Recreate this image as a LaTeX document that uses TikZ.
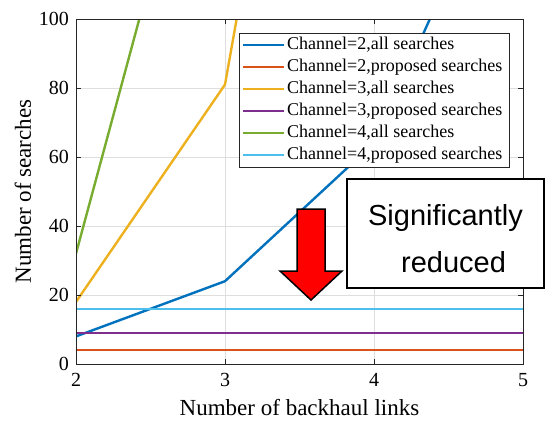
\documentclass[tikz,border=0pt]{standalone}
\usepackage{fontspec}
\setmainfont{Liberation Serif}
\setsansfont{Liberation Sans}
\definecolor{mblue}{rgb}{0,0.447,0.741}
\definecolor{morange}{rgb}{0.85,0.325,0.098}
\definecolor{myellow}{rgb}{0.929,0.694,0.125}
\definecolor{mpurple}{rgb}{0.494,0.184,0.556}
\definecolor{mgreen}{rgb}{0.466,0.674,0.188}
\definecolor{mcyan}{rgb}{0.301,0.745,0.933}
\definecolor{gridgray}{gray}{0.87}
\definecolor{axisgray}{gray}{0.15}
\tikzset{
  curve/.style={line width=2.4pt, line join=round},
  gridline/.style={draw=gridgray, line width=0.8pt},
  axisline/.style={draw=axisgray, line width=1pt},
  ticklabel/.style={font=\fontsize{20}{24}\selectfont, inner sep=0pt},
  axislabel/.style={font=\fontsize{23}{27}\selectfont, inner sep=0pt},
  legendtext/.style={font=\fontsize{18}{21}\selectfont, inner sep=0pt, anchor=west},
  notetext/.style={font=\sffamily\fontsize{29}{34}\selectfont, inner sep=0pt, anchor=base},
  declare function={px(\L)=76+(\L-2)*149; py(\v)=364-\v*3.45;}
}
\begin{document}
\begin{tikzpicture}[x=1pt,y=-1pt]
\useasboundingbox (0,0) rectangle (545,421);

% grid
\foreach \L in {3,4} \draw[gridline] ({px(\L)},19) -- ({px(\L)},364);
\foreach \v in {20,40,60,80} \draw[gridline] (76,{py(\v)}) -- (523,{py(\v)});

% data curves
\begin{scope}
  \clip (76,19) rectangle (523,364);
  \draw[curve, mblue] ({px(2)},{py(8)}) -- ({px(3)},{py(24)}) -- ({px(4)},{py(64)}) -- ({px(5)},{py(160)});
  \draw[curve, morange] ({px(2)},{py(4)}) -- ({px(5)},{py(4)});
  \draw[curve, myellow] ({px(2)},{py(18)}) -- ({px(3)},{py(81)}) -- ({px(4)},{py(324)});
  \draw[curve, mpurple] ({px(2)},{py(9)}) -- ({px(5)},{py(9)});
  \draw[curve, mgreen] ({px(2)},{py(32)}) -- ({px(3)},{py(192)});
  \draw[curve, mcyan] ({px(2)},{py(16)}) -- ({px(5)},{py(16)});
\end{scope}

% axes box and ticks
\draw[axisline] (76,19) rectangle (523,364);
\foreach \L in {2,3,4,5} {
  \draw[axisline] ({px(\L)},364) -- ({px(\L)},359);
  \draw[axisline] ({px(\L)},19) -- ({px(\L)},24);
  \node[ticklabel, anchor=north] (xt\L) at ({px(\L)},373) {\L};
}
\foreach \v in {0,20,40,60,80,100} {
  \draw[axisline] (76,{py(\v)}) -- (81,{py(\v)});
  \draw[axisline] (523,{py(\v)}) -- (518,{py(\v)});
  \node[ticklabel, anchor=east] (yt\v) at (69,{py(\v)}) {\v};
}
\node[axislabel] (xlabel) at (299.5,408) {Number of backhaul links};
\node[axislabel, rotate=90] (ylabel) at (23,191.5) {Number of searches};

% legend
\node[draw=axisgray, fill=white, line width=1pt, minimum width=270pt, minimum height=134pt, inner sep=0pt] (legend) at (374,100) {};
\foreach \c/\t [count=\i from 0] in {mblue/{Channel=2,all searches},
    morange/{Channel=2,proposed searches},
    myellow/{Channel=3,all searches},
    mpurple/{Channel=3,proposed searches},
    mgreen/{Channel=4,all searches},
    mcyan/{Channel=4,proposed searches}} {
  \draw[curve, \c] (243,{45+22*\i}) -- (284,{45+22*\i});
  \node[legendtext] (leg\i) at (287,{45+22*\i}) {\t};
}

% downward arrow
\draw[fill=red, draw=black, line width=1.5pt, line join=miter]
  (297,209) -- (325,209) -- (325,271) -- (342,271) -- (311,300) -- (280,271) -- (297,271) -- cycle;

% annotation box
\node[draw=black, fill=white, line width=2pt, minimum width=197pt, minimum height=109pt, inner sep=0pt] (note) at (445.5,233.5) {};
\node[notetext] (note1) at (445.5,225) {Significantly};
\node[notetext] (note2) at (453.5,272) {reduced};
\end{tikzpicture}
\end{document}
